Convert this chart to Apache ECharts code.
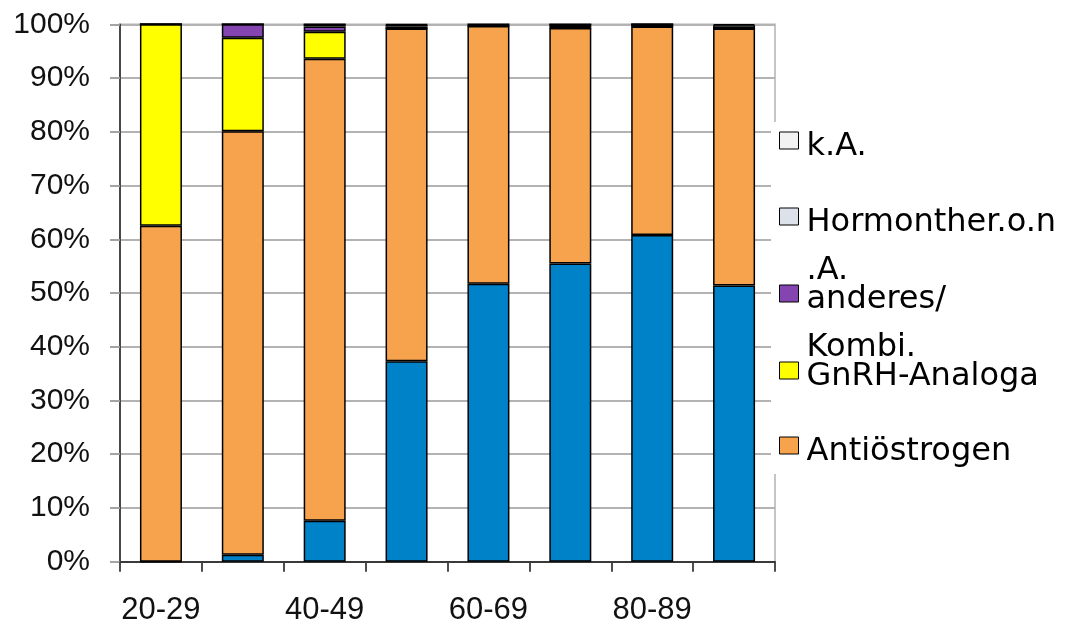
<!DOCTYPE html>
<html>
<head>
<meta charset="utf-8">
<title>Hormontherapie nach Altersgruppe</title>
<script src="https://cdn.jsdelivr.net/npm/echarts@6/dist/echarts.min.js"></script>
<style>
  html, body { margin: 0; padding: 0; background: #fff; }
  #chart { width: 1068px; height: 624px; }
</style>
</head>
<body>
<div id="chart"></div>
<script>
// Altersgruppen (x-Achse)
const ageGroups = ['20-29', '30-39', '40-49', '50-59', '60-69', '70-79', '80-89', '90+'];

// Anteile je Therapieform in Prozent (gestapelt auf 100 %)
const aromatasehemmer = [0, 1.3, 7.6, 37.3, 51.7, 55.5, 60.8, 51.4];
const antioestrogen   = [62.5, 78.8, 86.0, 61.9, 48.0, 43.8, 38.8, 47.8];
const gnrhAnaloga     = [37.5, 17.4, 5.0, 0, 0, 0, 0, 0];
const anderesKombi    = [0, 2.5, 1.0, 0.4, 0.1, 0.2, 0.4, 0];
const hormontherONA   = [0, 0, 0.4, 0.3, 0.2, 0.5, 0, 0.6];
const keineAngabe     = [0, 0, 0, 0.1, 0, 0, 0, 0.2];

// Tick-Beschriftungen der y-Achse
const yTicks = [0, 10, 20, 30, 40, 50, 60, 70, 80, 90, 100];

const seriesDefs = [
  { name: 'Aromatasehemmer',   data: aromatasehemmer, color: '#0082c8' },
  { name: 'Antiöstrogen',      data: antioestrogen,   color: '#f7a24d' },
  { name: 'GnRH-Analoga',      data: gnrhAnaloga,     color: '#ffff00' },
  { name: 'anderes/Kombi.',    data: anderesKombi,    color: '#8545b0' },
  { name: 'Hormonther.o.n.A.', data: hormontherONA,   color: '#dde2ea' },
  { name: 'k.A.',              data: keineAngabe,     color: '#f2f2f2' }
];

// Legendeneinträge: Name, Zeilen des Umbruchs, vertikale Mitte des Symbols
const legendEntries = [
  { name: 'k.A.',              lines: ['k.A.'],                   center: 138 },
  { name: 'Hormonther.o.n.A.', lines: ['Hormonther.o.n', '.A.'],  center: 214 },
  { name: 'anderes/Kombi.',    lines: ['anderes/', 'Kombi.'],     center: 291 },
  { name: 'GnRH-Analoga',      lines: ['GnRH-Analoga'],           center: 368 },
  { name: 'Antiöstrogen',      lines: ['Antiöstrogen'],           center: 443 }
];

const LEGEND_LINE = 48;     // Zeilenabstand der Legendenschrift
const LEGEND_SHIFT = 12;    // Schrift sitzt etwas tiefer als das Symbol
const LEGEND_NUDGE = 6.5;   // Ausgleich der Textbox gegenüber dem Symbol

const legendFont = { fontFamily: 'DejaVu Sans', fontSize: 32, color: '#000' };

const chart = echarts.init(document.getElementById('chart'), null, { renderer: 'canvas' });

const legends = legendEntries.map(e => {
  // Leerzeilen oberhalb, damit das Symbol neben der ersten Textzeile steht
  const blank = e.lines.length - 1;
  const parts = ['{s| }'];
  for (let i = 0; i < blank; i++) parts.push('{e| }');
  e.lines.forEach(l => parts.push('{t|' + l + '}'));
  const h = LEGEND_SHIFT + (blank + e.lines.length) * LEGEND_LINE;
  return {
    data: [e.name],
    orient: 'vertical',
    left: 779,
    top: e.center - h / 2 + LEGEND_NUDGE,
    padding: 0,
    itemWidth: 19,
    itemHeight: 17,
    itemGap: 0,
    icon: 'rect',
    selectedMode: false,
    formatter: () => parts.join('\n'),
    itemStyle: { borderColor: '#000', borderWidth: 1 },
    textStyle: Object.assign({}, legendFont, {
      rich: {
        s: Object.assign({}, legendFont, { lineHeight: LEGEND_SHIFT, fontSize: 4 }),
        e: Object.assign({}, legendFont, { lineHeight: LEGEND_LINE }),
        t: Object.assign({}, legendFont, { lineHeight: LEGEND_LINE, padding: [0, 0, 0, 3] })
      }
    })
  };
});

const option = {
  animation: false,
  backgroundColor: '#fff',
  grid: {
    left: 120,
    right: 293,
    top: 24.3,
    bottom: 62.3,
    outerBoundsMode: 'none',
    containLabel: false,
    show: true,
    borderColor: '#b3b3b3',
    borderWidth: 1.5
  },
  legend: legends,
  // weiße Fläche hinter der Legende, unterbricht den rechten Rahmen
  graphic: [{
    type: 'rect',
    z: 1,
    shape: { x: 771, y: 122, width: 297, height: 352 },
    style: { fill: '#fff' },
    silent: true
  }],
  xAxis: {
    type: 'category',
    data: ageGroups,
    axisLine: { lineStyle: { color: '#3a3a3a', width: 1.8 } },
    axisTick: {
      show: true,
      interval: 0,
      alignWithLabel: false,
      length: 10,
      lineStyle: { color: '#3a3a3a', width: 1.8 }
    },
    axisLabel: {
      interval: 1,
      margin: 33,
      fontFamily: 'Liberation Sans',
      fontSize: 31,
      color: '#111'
    },
    splitLine: { show: false }
  },
  yAxis: {
    type: 'value',
    min: yTicks[0],
    max: yTicks[yTicks.length - 1],
    interval: yTicks[1] - yTicks[0],
    axisLine: { show: true, lineStyle: { color: '#3a3a3a', width: 1.8 } },
    axisTick: { show: true, length: 10, lineStyle: { color: '#9a9a9a', width: 1.8 } },
    axisLabel: {
      formatter: '{value}%',
      margin: 30,
      padding: [6, 0, 0, 0],
      fontFamily: 'Liberation Sans',
      fontSize: 30,
      color: '#111'
    },
    splitLine: { show: true, lineStyle: { color: '#b3b3b3', width: 1.8 } }
  },
  series: seriesDefs.map(s => ({
    name: s.name,
    type: 'bar',
    stack: 'gesamt',
    data: s.data,
    barWidth: 42,
    itemStyle: { color: s.color, borderColor: '#000', borderWidth: 1.5 },
    emphasis: { disabled: true }
  }))
};

chart.setOption(option);
</script>
</body>
</html>
